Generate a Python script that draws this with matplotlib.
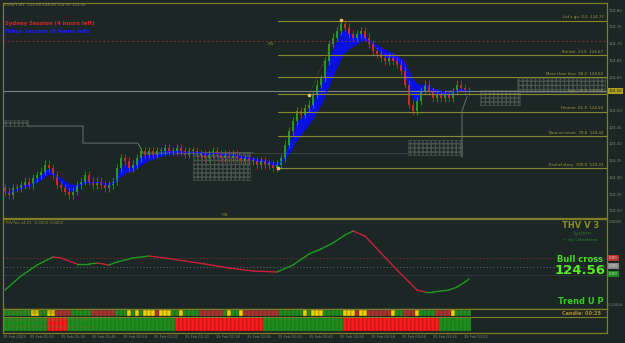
import matplotlib
matplotlib.use("Agg")
import matplotlib.pyplot as plt
import numpy as np
import pandas as pd
from matplotlib.patches import Rectangle

# EURJPY M1 closes, one per bar
closes = [124.26, 124.25, 124.27, 124.27, 124.28, 124.29, 124.28, 124.30, 124.31, 124.32,
          124.34, 124.33, 124.31, 124.28, 124.27, 124.26, 124.25, 124.26, 124.28, 124.29,
          124.31, 124.29, 124.28, 124.29, 124.28, 124.27, 124.28, 124.29, 124.33, 124.36,
          124.35, 124.33, 124.34, 124.36, 124.38, 124.37, 124.38, 124.37, 124.38, 124.38,
          124.39, 124.38, 124.38, 124.39, 124.38, 124.37, 124.38, 124.38, 124.37, 124.37,
          124.36, 124.37, 124.38, 124.37, 124.36, 124.37, 124.36, 124.37, 124.36, 124.35,
          124.36, 124.35, 124.35, 124.34, 124.35, 124.34, 124.34, 124.33, 124.34, 124.36,
          124.40, 124.44, 124.47, 124.50, 124.49, 124.51, 124.52, 124.55, 124.58, 124.60,
          124.65, 124.70, 124.72, 124.74, 124.76, 124.75, 124.73, 124.72, 124.73, 124.74,
          124.72, 124.70, 124.68, 124.67, 124.66, 124.65, 124.66, 124.65, 124.64, 124.62,
          124.58, 124.52, 124.50, 124.53, 124.56, 124.58, 124.56, 124.54, 124.55, 124.54,
          124.55, 124.54, 124.56, 124.58, 124.57, 124.56, 124.56]
first_open = 124.27

# THV Trix oscillator, read at a few bars
osc_bars = [0, 4, 8, 12, 14, 18, 21, 23, 26, 28, 32, 36, 40, 45, 50, 56, 62, 68, 72, 76,
            79, 82, 85, 87, 90, 94, 98, 101, 103, 105, 107, 109, 111, 113, 115, 116]
osc_vals = [-0.00023, -0.00009, 0.00002, 0.00010, 0.00009, 0.00003, 0.00003, 0.00004,
            0.00002, 0.00005, 0.00009, 0.00011, 0.00009, 0.00006, 0.00003, -0.00001,
            -0.00004, -0.00005, 0.00002, 0.00013, 0.00018, 0.00024, 0.00032, 0.00036,
            0.00031, 0.00014, -0.00003, -0.00015, -0.00023, -0.00025, -0.00025, -0.00024,
            -0.00023, -0.00020, -0.00015, -0.00012]

# colour strip states per bar (G green, Y yellow, R red)
trend_runs = [("G", 7), ("Y", 2), ("G", 2), ("Y", 2), ("R", 4), ("G", 5), ("R", 6), ("G", 3),
              ("Y", 1), ("G", 1), ("Y", 1), ("G", 1), ("Y", 3), ("R", 1), ("Y", 3), ("G", 2),
              ("Y", 1), ("G", 4), ("R", 6), ("G", 1), ("Y", 1), ("G", 2), ("Y", 1), ("R", 9),
              ("G", 6), ("Y", 1), ("G", 1), ("Y", 3), ("G", 5), ("Y", 3), ("R", 1), ("Y", 2),
              ("R", 6), ("Y", 1), ("G", 2), ("R", 3), ("Y", 1), ("G", 4), ("R", 4), ("Y", 1),
              ("G", 4)]
momentum_runs = [("G", 11), ("R", 5), ("G", 27), ("R", 22), ("G", 20), ("R", 24), ("G", 8)]

fib_names = ["Let's go", "Bullish", "More than less", "Ops", "Hmmm", "Now or never", "End of story"]
fib_levels = [0.0, 23.6, 38.2, 50.0, 61.8, 78.6, 100.0]
fib_high = 124.77
fib_low = 124.33
current_price = 124.56
red_level = 124.71
price_ticks = [124.80, 124.75, 124.70, 124.65, 124.60, 124.50, 124.45, 124.40,
               124.35, 124.30, 124.25, 124.20]
date_labels = ["25 Feb 2009", "25 Feb 01:30", "25 Feb 01:38", "25 Feb 01:46", "25 Feb 01:54",
               "25 Feb 02:02", "25 Feb 02:10", "25 Feb 02:18", "25 Feb 02:26", "25 Feb 02:34",
               "25 Feb 02:42", "25 Feb 02:50", "25 Feb 02:58", "25 Feb 03:06", "25 Feb 03:14",
               "25 Feb 03:22"]

BG = "#1c2624"
OLIVE = "#7d7d2a"
GRN = "#239a23"
RED = "#cc2a2a"
GREY = "#5e6868"

fig = plt.figure(figsize=(6.25, 3.43), dpi=100, facecolor=BG)


def px_axes(x0, y0, x1, y1):
    a = fig.add_axes([x0 / 625, 1 - y1 / 343, (x1 - x0) / 625, (y1 - y0) / 343])
    a.set_facecolor(BG)
    for s in a.spines.values():
        s.set_color(OLIVE)
        s.set_linewidth(0.9)
    a.set_xticks([])
    a.set_yticks([])
    return a


def ftext(x, y, s, **kw):
    fig.text(x / 625, 1 - y / 343, s, **kw)


xmin, xmax = -0.5, 150.5
n = len(closes)
idx = np.arange(n)
c = np.array(closes)
o = np.concatenate([[first_open], c[:-1]])

# ---------------- main price panel ----------------
ax = px_axes(3, 3, 607, 218)
ax.set_xlim(xmin, xmax)
ax.set_ylim(124.18, 124.823)

# session boxes / step line (grey)
ax.plot([5.75, 19.5, 19.5, 33.25, 34.5, 62], [124.455, 124.455, 124.404, 124.404, 124.374, 124.374],
        color=GREY, lw=0.8)
hatch_boxes = [(-0.5, 124.455, 6.25, 0.018), (47, 124.294, 14.25, 0.083),
               (100.75, 124.368, 13.5, 0.045), (118.75, 124.518, 10, 0.045),
               (128, 124.557, 22, 0.042)]
for (bx, by, bw, bh) in hatch_boxes:
    ax.add_patch(Rectangle((bx, by), bw, bh, fill=False, hatch="++++", edgecolor="#47524f", lw=0.4))
ax.plot([114.25, 114.25, 115.5], [124.362, 124.50, 124.542], color=GREY, lw=0.8)
ax.plot([62, 100.75], [124.374, 124.374], color="#3e4848", lw=0.6)

ax.axhline(red_level, color="#a03030", lw=0.6, ls=(0, (2, 3)))
ax.axhline(current_price, color="#7b8585", lw=0.8)

# blue band
ema_fast = pd.Series(c).ewm(span=3).mean()
ema_slow = pd.Series(c).ewm(span=9).mean()
ax.fill_between(idx, ema_fast, ema_slow, color="#0a10e0", lw=0)
ax.plot(idx, ema_slow, color="#0a10e0", lw=0.8)

# candles
hi = np.maximum(o, c) + 0.012
lo = np.minimum(o, c) - 0.012
cols = [GRN if cc >= oo else RED for oo, cc in zip(o, c)]
ax.vlines(idx, lo, hi, colors=cols, lw=0.6)
ax.bar(idx, np.maximum(np.abs(c - o), 0.005), bottom=np.minimum(o, c) - 0.001, width=0.7,
       color=cols, lw=0)

# fibonacci
fib_start = 68.2
for name, lev in zip(fib_names, fib_levels):
    p = fib_high - (fib_high - fib_low) * lev / 100
    ax.plot([fib_start, xmax], [p, p], color="#8a8a2c", lw=0.8)
    ax.text(149.6, p + 0.004, f"{name}  {lev:.1f}  {p:.2f}", color="#9c9c3a", fontsize=2.9,
            ha="right", va="bottom")
ax.plot([76, 84.1], [124.548, 124.77], color="#9a5a2a", lw=0.6, ls=(0, (1, 2)))
ax.scatter([68.2, 76, 84.1], [124.33, 124.548, 124.772], s=2.5, color="#e8c060", zorder=5)

ax.text(66.5, 124.70, "M1", color="#8a8a2c", fontsize=3.2, ha="center", va="center")

# right price scale
for p in price_ticks:
    ax.text(1.003, (p - 124.18) / (124.823 - 124.18), f"{p:.2f}", transform=ax.transAxes,
            color="#7e8670", fontsize=2.9, va="center", ha="left", clip_on=False)
ax.text(1.002, (current_price - 124.18) / (124.823 - 124.18), f"{current_price:.2f}",
        transform=ax.transAxes, color="#202010", fontsize=2.9, va="center", ha="left",
        bbox=dict(boxstyle="square,pad=0.15", fc="#b0a020", ec="none"), clip_on=False)

ftext(4, 3, "EURJPY,M1  124.58 124.58 124.56 124.58", color="#8c8c4a", fontsize=2.8, va="top")
ftext(5, 21, "Sydney Session (4 hours left)", color="#d02828", fontsize=3.9, weight="bold", va="top")
ftext(5, 29, "Tokyo Session (8 hours left)", color="#1a1aff", fontsize=3.9, weight="bold", va="top")
ftext(225, 216.5, "M1", color="#8a8a2c", fontsize=3.2, ha="center", va="bottom")

# ---------------- oscillator panel ----------------
ax2 = px_axes(3, 219, 607, 309)
ax2.set_xlim(xmin, xmax)
ax2.set_ylim(-0.00042, 0.00048)
ax2.axhline(0.00009, color="#8a3030", lw=0.6, ls=(0, (1.5, 2.5)))
ax2.axhline(0.0, color="#5a6a6a", lw=0.6, ls=(0, (1.5, 2.5)))
ax2.axhline(-0.00008, color="#324040", lw=0.5)
for k in range(len(osc_bars) - 1):
    col = "#1f9a1f" if osc_vals[k + 1] >= osc_vals[k] else "#c8203c"
    ax2.plot(osc_bars[k:k + 2], osc_vals[k:k + 2], color=col, lw=1.0, solid_capstyle="round")

ftext(5, 221, "THVTrix v4.01 -0.0002 0.0002", color="#8a8a3a", fontsize=2.8, va="top")
ftext(581, 221.5, "THV V 3", color="#8b8b2a", fontsize=6, weight="bold", ha="center", va="top")
ftext(582, 231, "System", color="#2c6b2c", fontsize=3.6, ha="center", va="top")
ftext(580, 238, "\u00a9 by Cobraforex", color="#2a8a2a", fontsize=3.0, ha="center", va="top")
ftext(580, 255, "Bull cross", color="#44dd22", fontsize=6, weight="bold", ha="center", va="top")
ftext(580, 264, "124.56", color="#55ee22", fontsize=9.5, weight="bold", ha="center", va="top")
ftext(581, 297.5, "Trend U P", color="#33cc22", fontsize=6, weight="bold", ha="center", va="top")
ftext(609, 220, "0.0005", color="#7e8670", fontsize=2.8, va="top")
ftext(608, 303, "-0.0004", color="#7e8670", fontsize=2.8, va="top")
for yy, fc in [(256, "#b83030"), (264, "#8a8a8a"), (272, "#1f8a1f")]:
    ftext(609, yy, "0.00", color="#ddd", fontsize=2.8, va="top",
          bbox=dict(boxstyle="square,pad=0.2", fc=fc, ec="none"))

# ---------------- colour strip panel ----------------
ax3 = px_axes(3, 309, 607, 333)
ax3.set_xlim(xmin, xmax)
ax3.set_ylim(24, 0)
strip_cols = {"G": "#1f8c1f", "Y": "#f2d000", "R": "#a83232"}
mom_cols = {"G": "#1f8c1f", "R": "#ff1a1a"}
pos = 0
for code, cnt in trend_runs:
    ax3.bar(np.arange(pos, pos + cnt), 6.5, bottom=0.5, width=1.0, color=strip_cols[code],
            edgecolor="#2a2a10", lw=0.2)
    pos += cnt
pos = 0
for code, cnt in momentum_runs:
    ax3.bar(np.arange(pos, pos + cnt), 14, bottom=8, width=1.0, color=mom_cols[code],
            edgecolor="#3a1010" if code == "R" else "#145a14", lw=0.2)
    pos += cnt
ax3.axhline(7.5, color=OLIVE, lw=0.8)
ax3.text(1, 3.6, "THV Trend 1.0000 1.0000", color="#6a6a30", fontsize=2.6, va="center")
ax3.text(1, 11.5, "Momentum Line TF Settings: TF 0 0 Pk 0MS", color="#6a6a30", fontsize=2.6, va="center")
ax3.text(1, 18, "THV Filter 2.0000 0.0000 Trend Sell/Short Conf", color="#6a6a30", fontsize=2.6, va="center")
ftext(582, 311, "Candle: 00:25", color="#b0902a", fontsize=3.6, weight="bold", ha="center", va="top")

# date labels
for k, lab in enumerate(date_labels):
    x = -0.5 if k == 0 else 6.25 + 7.75 * (k - 1)
    ax3.text(x, 26.5, lab, color="#8a8a6a", fontsize=2.6, va="top", ha="left", clip_on=False)

fig.savefig("out.png", dpi=100, facecolor=BG)
